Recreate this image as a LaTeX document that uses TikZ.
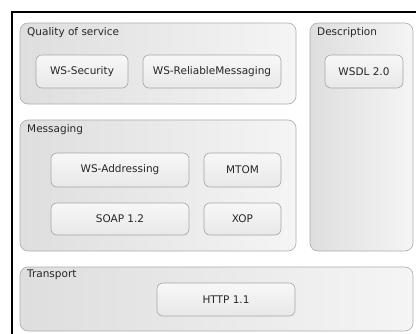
\documentclass[tikz,border=0pt]{standalone}
\usepackage{fontspec}
\setmainfont{DejaVu Sans}
\begin{document}
\begin{tikzpicture}[x=1pt,y=-1pt,
  outerbox/.style={draw=gray!65, line width=0.6pt, rounded corners=8pt, left color=gray!26, right color=gray!8, inner sep=0pt},
  innerbox/.style={draw=gray!70, line width=0.6pt, rounded corners=6pt, top color=gray!6, bottom color=gray!18, inner sep=0pt, font=\fontsize{10.5}{12}\selectfont, text=black!85},
  grouplabel/.style={anchor=north west, inner sep=0pt, font=\fontsize{10.5}{12}\selectfont, text=black!85}
]
\useasboundingbox (0,0) rectangle (416,333);
\fill[white] (0,0) rectangle (416,333);
% frame
\coordinate (fa) at (12,333);
\coordinate (fb) at (12,12);
\coordinate (fc) at (416,12);
\draw[line width=2pt, line cap=rect] (fa) -- (fb) -- (fc);

% Quality of service
\node[outerbox, minimum width=276pt, minimum height=81pt] (qos) at (158,63.5) {};
\node[grouplabel] (qosl) at (27,27) {Quality of service};
\node[innerbox, minimum width=92pt, minimum height=33pt] (wssec) at (82,71.5) {WS-Security};
\node[innerbox, minimum width=138pt, minimum height=33pt] (wsrm) at (212,71.5) {WS-ReliableMessaging};

% Description
\node[outerbox, minimum width=103pt, minimum height=228pt] (desc) at (361.5,137) {};
\node[grouplabel] (descl) at (317,27) {Description};
\node[innerbox, minimum width=78pt, minimum height=33pt] (wsdl) at (364,71.5) {WSDL 2.0};

% Messaging
\node[outerbox, minimum width=276pt, minimum height=131pt] (msg) at (158,185.5) {};
\node[grouplabel] (msgl) at (27,124) {Messaging};
\node[innerbox, minimum width=138pt, minimum height=34pt] (wsa) at (120,170) {WS-Addressing};
\node[innerbox, minimum width=77pt, minimum height=34pt] (mtom) at (242.5,170) {MTOM};
\node[innerbox, minimum width=138pt, minimum height=32pt] (soap) at (120,219) {SOAP 1.2};
\node[innerbox, minimum width=77pt, minimum height=32pt] (xop) at (242.5,219) {XOP};

% Transport
\node[outerbox, minimum width=393pt, minimum height=64pt] (trans) at (216.5,299) {};
\node[grouplabel] (transl) at (27,270) {Transport};
\node[innerbox, minimum width=138pt, minimum height=33pt] (http) at (226,299.5) {HTTP 1.1};
\end{tikzpicture}
\end{document}
